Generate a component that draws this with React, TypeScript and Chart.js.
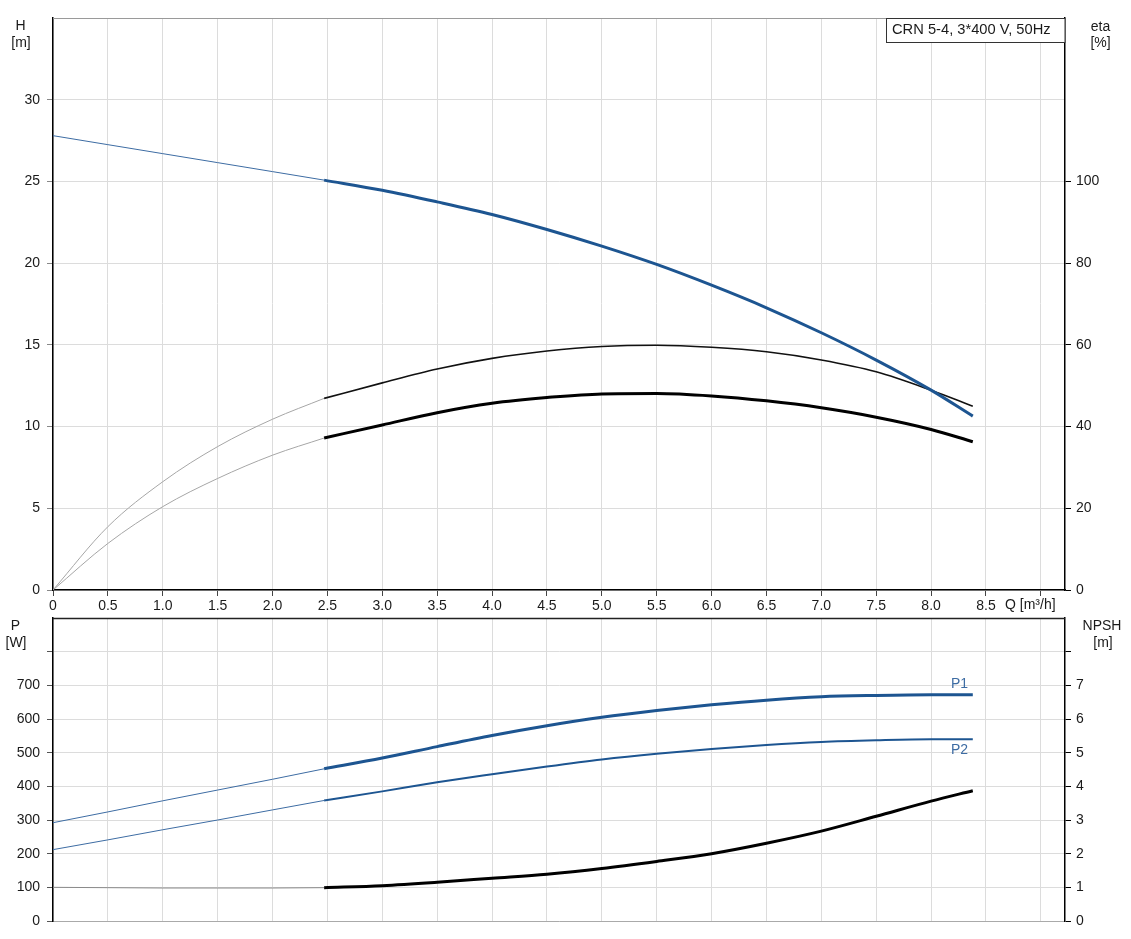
import React, { useEffect, useRef } from 'react';
import { Chart, registerables } from 'chart.js';
Chart.register(...registerables);

// ---------- data ----------
const Q_LOW = [0, 0.5, 1.0, 1.5, 2.0, 2.47];
const Q_HIGH = [2.47, 3.0, 3.5, 4.0, 4.5, 5.0, 5.5, 6.0, 6.5, 7.0, 7.5, 8.0, 8.38];

const H_LOW = [27.8, 27.25, 26.7, 26.15, 25.6, 25.08];
const H_HIGH = [25.08, 24.46, 23.75, 22.98, 22.06, 21.04, 19.92, 18.65, 17.27, 15.74, 14.07, 12.23, 10.64];

const ETA1_LOW = [0, 15.5, 26.5, 35.1, 41.8, 46.9];
const ETA1_HIGH = [46.9, 50.7, 54.1, 56.7, 58.5, 59.6, 59.9, 59.4, 58.3, 56.3, 53.4, 48.9, 45.0];
const ETA2_LOW = [0, 11.4, 20.4, 27.3, 33.0, 37.2];
const ETA2_HIGH = [37.2, 40.4, 43.4, 45.7, 47.1, 48.0, 48.1, 47.5, 46.3, 44.6, 42.3, 39.3, 36.3];

const P1_LOW = [292, 324, 357, 389, 421, 452];
const P1_HIGH = [452, 484, 518, 551, 580, 605, 625, 642, 656, 666, 670, 672, 672];
const P2_LOW = [212, 241, 271, 300, 330, 358];
const P2_HIGH = [358, 385, 412, 436, 459, 480, 497, 511, 523, 532, 537, 540, 540];
const NPSH_LOW = [1.0, 0.99, 0.98, 0.98, 0.98, 0.99];
const NPSH_HIGH = [0.99, 1.05, 1.15, 1.27, 1.39, 1.56, 1.77, 2.0, 2.31, 2.67, 3.11, 3.56, 3.87];

const Q_TICKS = [0, 0.5, 1, 1.5, 2, 2.5, 3, 3.5, 4, 4.5, 5, 5.5, 6, 6.5, 7, 7.5, 8, 8.5, 9];
const H_TICKS = [0, 5, 10, 15, 20, 25, 30];
const ETA_TICKS = [0, 20, 40, 60, 80, 100];
const P_TICKS = [0, 100, 200, 300, 400, 500, 600, 700, 800];
const NPSH_TICKS = [0, 1, 2, 3, 4, 5, 6, 7, 8];

const TITLE = 'CRN 5-4, 3*400 V, 50Hz';

// ---------- style ----------
const FONT_FAMILY = '"Liberation Sans", Arial, sans-serif';
const FONT = { family: FONT_FAMILY, size: 14 };
const TXT = '#1a1a1a';
const BLUE = '#1d5591';
const BLUE_THIN = '#3d6ca3';
const GRID = '#dcdcdc';
const W = 1131;
const TOP_H = 614;
const BOT_Y = 600;
const BOT_H = 939 - BOT_Y;

const pts = (xs: number[], ys: number[]) => xs.map((x, i) => ({ x, y: ys[i] }));
const setTicks = (vals: number[]) => (s: any) => {
  s.ticks = vals.map((v) => ({ value: v }));
};

function text(ctx: CanvasRenderingContext2D, t: string, x: number, y: number, align: CanvasTextAlign, color = TXT, size = 14) {
  ctx.save();
  ctx.font = `${size}px ${FONT_FAMILY}`;
  ctx.fillStyle = color;
  ctx.textAlign = align;
  ctx.textBaseline = 'middle';
  ctx.fillText(t, x, y);
  ctx.restore();
}

const topOverlay = {
  id: 'topOverlay',
  afterDraw(chart: any) {
    const { ctx, chartArea: a } = chart;
    ctx.save();
    ctx.strokeStyle = '#9a9a9a';
    ctx.lineWidth = 1;
    ctx.beginPath();
    ctx.moveTo(a.left, a.top + 0.5);
    ctx.lineTo(a.right, a.top + 0.5);
    ctx.stroke();
    // title box
    ctx.fillStyle = '#fff';
    ctx.fillRect(886.5, a.top + 0.5, a.right - 886.5, 24);
    ctx.strokeStyle = '#333';
    ctx.strokeRect(886.5, a.top + 0.5, a.right - 886.5, 24);
    ctx.restore();
    text(ctx, TITLE, 892, 30, 'left', TXT, 14.7);
    text(ctx, 'H', 20.5, 26, 'center');
    text(ctx, '[m]', 21, 43.5, 'center');
    text(ctx, 'eta', 1100.5, 27, 'center');
    text(ctx, '[%]', 1100.5, 43.5, 'center');
    text(ctx, 'Q [m³/h]', 1005, 605, 'left');
  },
};

const botOverlay = {
  id: 'botOverlay',
  afterDraw(chart: any) {
    const { ctx, chartArea: a } = chart;
    ctx.save();
    ctx.strokeStyle = '#222';
    ctx.lineWidth = 1.5;
    ctx.beginPath();
    ctx.moveTo(a.left, a.top + 0.5);
    ctx.lineTo(a.right, a.top + 0.5);
    ctx.stroke();
    ctx.restore();
    text(ctx, 'P', 15.5, 626 - BOT_Y, 'center');
    text(ctx, '[W]', 16, 643.5 - BOT_Y, 'center');
    text(ctx, 'NPSH', 1102, 626 - BOT_Y, 'center');
    text(ctx, '[m]', 1103, 643.5 - BOT_Y, 'center');
    text(ctx, 'P1', 951, 684 - BOT_Y, 'left', BLUE_THIN);
    text(ctx, 'P2', 951, 750 - BOT_Y, 'left', BLUE_THIN);
  },
};

const line = (data: any, color: string, width: number, axis: string) => ({
  data,
  borderColor: color,
  borderWidth: width,
  yAxisID: axis,
  pointRadius: 0,
  fill: false,
  cubicInterpolationMode: 'monotone',
});

const xScale = (labels: boolean, height: number, borderColor: string) => ({
  type: 'linear',
  min: 0,
  max: 9.22,
  afterBuildTicks: setTicks(Q_TICKS),
  afterFit: (s: any) => {
    s.height = height;
  },
  ticks: {
    display: labels,
    font: FONT,
    color: TXT,
    padding: 2,
    maxRotation: 0,
    autoSkip: false,
    callback: (v: number) => (v === 0 ? '0' : v >= 9 ? '' : v.toFixed(1)),
  },
  grid: { color: GRID, lineWidth: 1, tickLength: labels ? 6 : 0, tickColor: '#444' },
  border: { color: borderColor, width: labels ? 1.5 : 1 },
});

export default function App() {
  const topRef = useRef<HTMLCanvasElement>(null);
  const botRef = useRef<HTMLCanvasElement>(null);

  useEffect(() => {
    const top = new Chart(topRef.current as HTMLCanvasElement, {
      type: 'line',
      data: {
        datasets: [
          line(pts(Q_LOW, H_LOW), BLUE_THIN, 1, 'y'),
          line(pts(Q_HIGH, H_HIGH), BLUE, 3, 'y'),
          line(pts(Q_LOW, ETA1_LOW), '#a6a6a6', 1, 'y2'),
          line(pts(Q_HIGH, ETA1_HIGH), '#111', 1.6, 'y2'),
          line(pts(Q_LOW, ETA2_LOW), '#a6a6a6', 1, 'y2'),
          line(pts(Q_HIGH, ETA2_HIGH), '#000', 3, 'y2'),
        ] as any,
      },
      options: {
        animation: false,
        responsive: false,
        events: [],
        layout: { padding: { top: 18, left: 0, right: 0, bottom: 0 } },
        plugins: { legend: { display: false }, tooltip: { enabled: false } },
        scales: {
          x: xScale(true, TOP_H - 590, '#000') as any,
          y: {
            position: 'left',
            min: 0,
            max: 35,
            afterBuildTicks: setTicks(H_TICKS),
            afterFit: (s: any) => {
              s.width = 53;
            },
            ticks: { font: FONT, color: TXT, padding: 7 },
            grid: { color: GRID, tickLength: 6, tickColor: '#888' },
            border: { color: '#000', width: 1.5 },
          },
          y2: {
            position: 'right',
            min: 0,
            max: 140,
            afterBuildTicks: setTicks(ETA_TICKS),
            afterFit: (s: any) => {
              s.width = W - 1065;
            },
            ticks: { font: FONT, color: TXT, padding: 5 },
            grid: { drawOnChartArea: false, tickLength: 6, tickColor: '#000' },
            border: { color: '#000', width: 1.5 },
          },
        },
      },
      plugins: [topOverlay],
    });

    const bot = new Chart(botRef.current as HTMLCanvasElement, {
      type: 'line',
      data: {
        datasets: [
          line(pts(Q_LOW, P1_LOW), BLUE_THIN, 1, 'y'),
          line(pts(Q_HIGH, P1_HIGH), BLUE, 3, 'y'),
          line(pts(Q_LOW, P2_LOW), BLUE_THIN, 1, 'y'),
          line(pts(Q_HIGH, P2_HIGH), BLUE, 2, 'y'),
          line(pts(Q_LOW, NPSH_LOW), '#8a8a8a', 1, 'y2'),
          line(pts(Q_HIGH, NPSH_HIGH), '#000', 3, 'y2'),
        ] as any,
      },
      options: {
        animation: false,
        responsive: false,
        events: [],
        layout: { padding: { top: 618 - BOT_Y, left: 0, right: 0, bottom: 0 } },
        plugins: { legend: { display: false }, tooltip: { enabled: false } },
        scales: {
          x: xScale(false, BOT_H - (921 - BOT_Y), '#aaa') as any,
          y: {
            position: 'left',
            min: 0,
            max: 900,
            afterBuildTicks: setTicks(P_TICKS),
            afterFit: (s: any) => {
              s.width = 53;
            },
            ticks: { font: FONT, color: TXT, padding: 7, callback: (v: number) => (v >= 800 ? '' : String(v)) },
            grid: { color: GRID, tickLength: 6, tickColor: '#555' },
            border: { color: '#000', width: 1.5 },
          },
          y2: {
            position: 'right',
            min: 0,
            max: 9,
            afterBuildTicks: setTicks(NPSH_TICKS),
            afterFit: (s: any) => {
              s.width = W - 1065;
            },
            ticks: { font: FONT, color: TXT, padding: 5, callback: (v: number) => (v >= 8 ? '' : String(v)) },
            grid: { drawOnChartArea: false, tickLength: 6, tickColor: '#000' },
            border: { color: '#000', width: 1.5 },
          },
        },
      },
      plugins: [botOverlay],
    });

    return () => {
      top.destroy();
      bot.destroy();
    };
  }, []);

  return (
    <div style={{ position: 'absolute', left: 0, top: 0, width: W, height: 939, background: '#fff' }}>
      <canvas
        ref={topRef}
        width={W}
        height={TOP_H}
        style={{ position: 'absolute', left: 0, top: 0, width: W, height: TOP_H }}
      />
      <canvas
        ref={botRef}
        width={W}
        height={BOT_H}
        style={{ position: 'absolute', left: 0, top: BOT_Y, width: W, height: BOT_H }}
      />
    </div>
  );
}
